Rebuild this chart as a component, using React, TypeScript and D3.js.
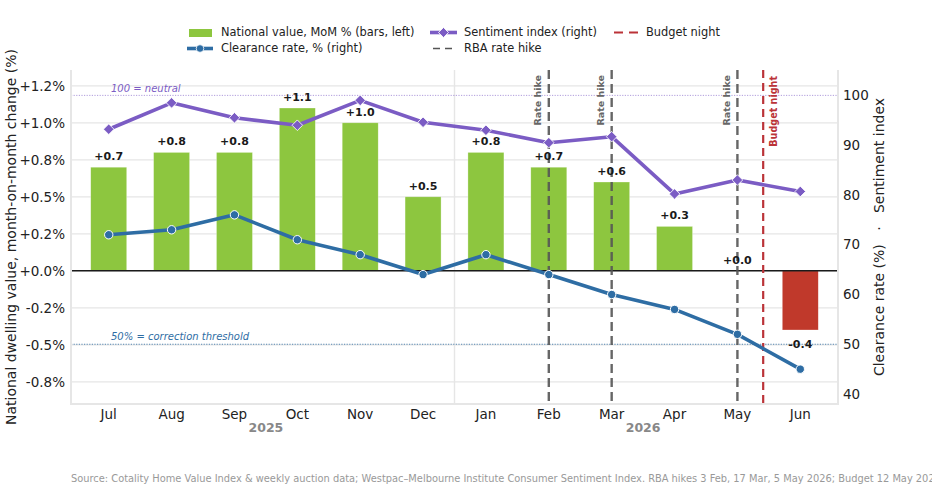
import * as d3 from "d3";

const months = ["Jul", "Aug", "Sep", "Oct", "Nov", "Dec", "Jan", "Feb", "Mar", "Apr", "May", "Jun"];
const mom = [0.7, 0.8, 0.8, 1.1, 1.0, 0.5, 0.8, 0.7, 0.6, 0.3, 0.0, -0.4];
const sentiment = [93.2, 98.5, 95.5, 94, 99, 94.6, 93, 90.5, 91.7, 80.2, 83, 80.7];
const clearance = [72, 73, 76, 71, 68, 64, 68, 64, 60, 57, 52, 45];
const leftTicks = [-0.75, -0.5, -0.25, 0, 0.25, 0.5, 0.75, 1, 1.25];
const leftTickLabels = ["-0.8%", "-0.5%", "-0.2%", "+0.0%", "+0.2%", "+0.5%", "+0.8%", "+1.0%", "+1.2%"];
const rightTicks = [40, 50, 60, 70, 80, 90, 100];
const rateHikes = [7, 8, 10];
const budgetNight = 10.41;
const years = [{ label: "2025", at: 2.5 }, { label: "2026", at: 8.5 }];
const yearSplit = 5.5;

const GREEN = "#8dc63f";
const RED = "#c0392b";
const BLUE = "#2e6da4";
const PURPLE = "#7b5cc4";
const GREY = "#555555";
const BUDGET = "#bb3338";
const GRID = "#e6e6e6";
const FONT = "'DejaVu Sans', sans-serif";

const left = 71;
const right = 838;
const top = 70;
const bottom = 404;

const x = d3.scaleLinear().domain([-0.6, 11.6]).range([left, right]);
const y = d3.scaleLinear().domain([-0.9, 1.3568]).range([bottom, top]);
const y2 = d3.scaleLinear().domain([38, 105.1]).range([bottom, top]);
const barW = 36;

const lineOf = (vals: number[]) =>
  d3.line<number>().x((_, i) => x(i)).y((d) => y2(d))(vals) as string;
const diamond = d3.symbol(d3.symbolSquare, 56)() as string;
const diamondLegend = d3.symbol(d3.symbolSquare, 50)() as string;

export default function App() {
  return (
    <svg
      width={932}
      height={496}
      style={{ position: "fixed", left: 0, top: 0, fontFamily: FONT }}
    >
      <rect width={932} height={496} fill="#fff" />

      {/* grid */}
      {leftTicks.map((t) => (
        <line key={t} x1={left} x2={right} y1={y(t)} y2={y(t)} stroke={GRID} strokeWidth={1.2} />
      ))}
      <line x1={x(yearSplit)} x2={x(yearSplit)} y1={top} y2={bottom} stroke={GRID} strokeWidth={1.4} />

      {/* reference lines */}
      <line x1={left} x2={right} y1={y2(100)} y2={y2(100)} stroke={PURPLE} strokeOpacity={0.6} strokeWidth={1} strokeDasharray="1.2 1.4" />
      <line x1={left} x2={right} y1={y2(50)} y2={y2(50)} stroke={BLUE} strokeOpacity={0.8} strokeWidth={1.2} strokeDasharray="1.2 1.4" />
      <text x={111} y={91.5} fontSize={10} fontStyle="italic" fill={PURPLE}>100 = neutral</text>
      <text x={111} y={340} fontSize={10} fontStyle="italic" fill={BLUE}>50% = correction threshold</text>

      {/* bars */}
      {mom.map((v, i) => (
        <rect
          key={months[i]}
          x={x(i) - barW / 2}
          y={Math.min(y(v), y(0))}
          width={barW}
          height={Math.abs(y(v) - y(0))}
          fill={v >= 0 ? GREEN : RED}
          stroke="#fff"
          strokeOpacity={0.5}
          strokeWidth={0.6}
        />
      ))}
      <line x1={left} x2={right} y1={y(0)} y2={y(0)} stroke="#1a1a1a" strokeWidth={1.4} />

      {/* events */}
      {rateHikes.map((m) => (
        <g key={m}>
          <line x1={x(m)} x2={x(m)} y1={top} y2={bottom} stroke={GREY} strokeOpacity={0.9} strokeWidth={2.4} strokeDasharray="9 5" />
          <text
            transform={`translate(${x(m) - 11},75) rotate(-90)`}
            textAnchor="end"
            fontSize={9.5}
            fontWeight="bold"
            fill="#666"
            dy="0.35em"
          >
            Rate hike
          </text>
        </g>
      ))}
      <line x1={x(budgetNight)} x2={x(budgetNight)} y1={top} y2={bottom} stroke={BUDGET} strokeWidth={2.2} strokeDasharray="8 5" />
      <text
        transform={`translate(${x(budgetNight) + 10},76) rotate(-90)`}
        textAnchor="end"
        fontSize={9.6}
        fontWeight="bold"
        fill={BUDGET}
        dy="0.35em"
      >
        Budget night
      </text>

      {/* lines */}
      <path d={lineOf(clearance)} fill="none" stroke={BLUE} strokeWidth={3.6} strokeLinejoin="round" />
      {clearance.map((v, i) => (
        <circle key={i} cx={x(i)} cy={y2(v)} r={4.2} fill={BLUE} stroke="#fff" strokeWidth={1} />
      ))}
      <path d={lineOf(sentiment)} fill="none" stroke={PURPLE} strokeWidth={3.6} strokeLinejoin="round" />
      {sentiment.map((v, i) => (
        <path
          key={i}
          d={diamond}
          transform={`translate(${x(i)},${y2(v)}) rotate(45)`}
          fill={PURPLE}
          stroke="#fff"
          strokeWidth={0.8}
        />
      ))}

      {/* bar value labels */}
      {mom.map((v, i) => (
        <text
          key={months[i]}
          x={x(i)}
          y={v >= 0 ? y(v) - 7 : y(v) + 18}
          textAnchor="middle"
          fontSize={11}
          fontWeight="bold"
          fill="#1a1a1a"
        >
          {(v >= 0 ? "+" : "") + v.toFixed(1)}
        </text>
      ))}

      {/* spines */}
      <line x1={left} x2={left} y1={top} y2={bottom} stroke={GRID} strokeWidth={2} />
      <line x1={right} x2={right} y1={top} y2={bottom} stroke={GRID} strokeWidth={2} />
      <line x1={left - 1} x2={right + 1} y1={bottom} y2={bottom} stroke={GRID} strokeWidth={2} />

      {/* axes */}
      {leftTicks.map((t, i) => (
        <text key={t} x={65} y={y(t)} dy="0.35em" textAnchor="end" fontSize={13.5} fill="#222">
          {leftTickLabels[i]}
        </text>
      ))}
      {rightTicks.map((t) => (
        <text key={t} x={843} y={y2(t)} dy="0.35em" fontSize={13.5} fill="#222">
          {t}
        </text>
      ))}
      {months.map((m, i) => (
        <text key={m} x={x(i)} y={414} dy="0.35em" textAnchor="middle" fontSize={13.5} fill="#222">
          {m}
        </text>
      ))}
      {years.map((d) => (
        <text key={d.label} x={x(d.at)} y={428} dy="0.35em" textAnchor="middle" fontSize={12.5} fontWeight="bold" fill="#888">
          {d.label}
        </text>
      ))}
      <text transform="translate(11,237) rotate(-90)" dy="0.35em" textAnchor="middle" fontSize={14} fill="#222">
        National dwelling value, month-on-month change (%)
      </text>
      <text transform="translate(879,237) rotate(-90)" dy="0.35em" textAnchor="middle" fontSize={14} fill="#222" xmlSpace="preserve">
        Clearance rate (%)   ·   Sentiment index
      </text>

      {/* legend */}
      <g fontSize={11.4} fill="#222">
        <rect x={189} y={29} width={23} height={8} fill={GREEN} />
        <text x={221} y={32.5} dy="0.35em">National value, MoM % (bars, left)</text>
        <line x1={187} x2={213} y1={48.5} y2={48.5} stroke={BLUE} strokeWidth={3.6} />
        <circle cx={200} cy={48.5} r={3.8} fill={BLUE} stroke="#fff" strokeWidth={0.8} />
        <text x={221} y={48.5} dy="0.35em">Clearance rate, % (right)</text>
        <line x1={430} x2={457} y1={32.5} y2={32.5} stroke={PURPLE} strokeWidth={3.6} />
        <path d={diamondLegend} transform="translate(443.5,32.5) rotate(45)" fill={PURPLE} stroke="#fff" strokeWidth={0.8} />
        <text x={464} y={32.5} dy="0.35em">Sentiment index (right)</text>
        <line x1={433} x2={452} y1={48.5} y2={48.5} stroke={GREY} strokeWidth={1.4} strokeDasharray="7 5" />
        <text x={464} y={48.5} dy="0.35em">RBA rate hike</text>
        <line x1={614} x2={638} y1={32.5} y2={32.5} stroke={BUDGET} strokeWidth={2.2} strokeDasharray="9 6" />
        <text x={646} y={32.5} dy="0.35em">Budget night</text>
      </g>

      <text x={71} y={482} fontSize={9.85} fill="#999">
        Source: Cotality Home Value Index &amp; weekly auction data; Westpac–Melbourne Institute Consumer Sentiment Index. RBA hikes 3 Feb, 17 Mar, 5 May 2026; Budget 12 May 2026
      </text>
    </svg>
  );
}
